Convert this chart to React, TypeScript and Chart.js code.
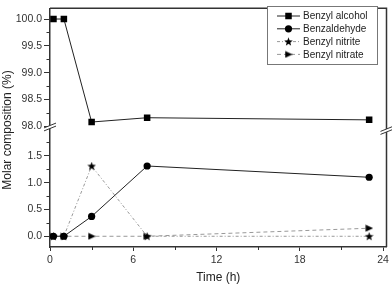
import React, { useEffect, useRef } from 'react';
import { Chart, registerables } from 'chart.js';

Chart.register(...registerables);

// ---- data ----
const times = [0.25, 1, 3, 7, 23];
const benzylAlcohol = [100.0, 100.0, 98.08, 98.16, 98.12];
const benzaldehyde = [0, 0, 0.37, 1.31, 1.1];
const benzylNitrite = [0, 0, 1.31, 0, 0];
const benzylNitrate = [0, 0, 0, 0, 0.15];
const seriesNames = ['Benzyl alcohol', 'Benzaldehyde', 'Benzyl nitrite', 'Benzyl nitrate'];
const xTicks = [0, 6, 12, 18, 24];
const xMinorTicks = [3, 9, 15, 21];
const yTopTicks = [98.0, 98.5, 99.0, 99.5, 100.0];
const yBottomTicks = [0.0, 0.5, 1.0, 1.5];
const xTitle = 'Time (h)';
const yTitle = 'Molar composition (%)';

const FONT = 'Arial, "Liberation Sans", sans-serif';
const AXIS = '#333333';

function makeStar(size: number) {
  const c = document.createElement('canvas');
  c.width = size; c.height = size;
  const ctx = c.getContext('2d')!;
  ctx.fillStyle = '#000';
  ctx.beginPath();
  const cx = size / 2, cy = size / 2 + 0.3, R = size / 2, r = R * 0.42;
  for (let i = 0; i < 10; i++) {
    const a = -Math.PI / 2 + (i * Math.PI) / 5;
    const rad = i % 2 === 0 ? R : r;
    ctx.lineTo(cx + rad * Math.cos(a), cy + rad * Math.sin(a));
  }
  ctx.closePath();
  ctx.fill();
  return c;
}

function makeTriangle(w: number, h: number) {
  const c = document.createElement('canvas');
  c.width = w; c.height = h;
  const ctx = c.getContext('2d')!;
  ctx.fillStyle = '#000';
  ctx.beginPath();
  ctx.moveTo(0.5, 0.5);
  ctx.lineTo(w, h / 2);
  ctx.lineTo(0.5, h - 0.5);
  ctx.closePath();
  ctx.fill();
  return c;
}

function drawMarker(ctx: CanvasRenderingContext2D, style: any, x: number, y: number, r: number) {
  ctx.save();
  ctx.fillStyle = '#000';
  if (typeof style !== 'string') {
    ctx.drawImage(style, x - style.width / 2, y - style.height / 2);
  } else if (style === 'rect') {
    const s = Math.SQRT1_2 * r;
    ctx.fillRect(x - s, y - s, 2 * s, 2 * s);
  } else {
    ctx.beginPath();
    ctx.arc(x, y, r, 0, Math.PI * 2);
    ctx.fill();
  }
  ctx.restore();
}

const decorPlugin = {
  id: 'decor',
  afterDraw(chart: any) {
    const { ctx, chartArea } = chart;
    const { left, right, top, bottom } = chartArea;
    const x = chart.scales.x;
    const yTop = chart.scales.yTop;
    const yBot = chart.scales.yBot;
    ctx.save();
    // frame top and right
    ctx.strokeStyle = AXIS;
    ctx.lineWidth = 1.5;
    ctx.beginPath();
    ctx.moveTo(left, top);
    ctx.lineTo(right, top);
    ctx.lineTo(right, bottom);
    ctx.stroke();

    // minor ticks
    ctx.lineWidth = 1;
    ctx.beginPath();
    for (const v of xMinorTicks) {
      const px = Math.round(x.getPixelForValue(v)) + 0.5;
      ctx.moveTo(px, bottom);
      ctx.lineTo(px, bottom + 3);
    }
    for (const sc of [yTop, yBot]) {
      const ticks = sc === yTop ? yTopTicks : yBottomTicks;
      for (let i = 0; i < ticks.length; i++) {
        const mids = [ticks[i] - 0.25, ticks[i] + 0.25];
        for (const m of mids) {
          if (m < sc.min || m > sc.max) continue;
          if (i > 0 && m === ticks[i] - 0.25) continue;
          const py = Math.round(sc.getPixelForValue(m)) + 0.5;
          ctx.moveTo(left, py);
          ctx.lineTo(left - 3.5, py);
        }
      }
    }
    ctx.stroke();

    // axis breaks
    const breaks = [
      { bx: left, yj: yTop.bottom - 2 },
      { bx: right, yj: yTop.bottom + 1.5 },
    ];
    for (const { bx, yj } of breaks) {
      ctx.fillStyle = '#fff';
      ctx.beginPath();
      ctx.moveTo(bx - 5, yj + 2 + 1.5);
      ctx.lineTo(bx + 5, yj - 2 + 1.5);
      ctx.lineTo(bx + 5, yj - 2 - 1.5);
      ctx.lineTo(bx - 5, yj + 2 - 1.5);
      ctx.closePath();
      ctx.fill();
      ctx.strokeStyle = AXIS;
      ctx.lineWidth = 1;
      ctx.beginPath();
      ctx.moveTo(bx - 6, yj + 2.4 + 1.5);
      ctx.lineTo(bx + 6, yj - 2.4 + 1.5);
      ctx.moveTo(bx - 6, yj + 2.4 - 1.5);
      ctx.lineTo(bx + 6, yj - 2.4 - 1.5);
      ctx.stroke();
    }

    // titles
    ctx.fillStyle = '#222';
    ctx.font = `12px ${FONT}`;
    ctx.textAlign = 'center';
    ctx.textBaseline = 'middle';
    ctx.fillText(xTitle, (left + right) / 2, 278);
    ctx.save();
    ctx.translate(8, 130);
    ctx.rotate(-Math.PI / 2);
    ctx.fillText(yTitle, 0, 0);
    ctx.restore();

    // legend
    const bx0 = 267.5, by0 = 6.5, bw = 110, bh = 58;
    ctx.fillStyle = '#fff';
    ctx.fillRect(bx0, by0, bw, bh);
    ctx.strokeStyle = '#777';
    ctx.lineWidth = 1;
    ctx.strokeRect(bx0, by0, bw, bh);
    ctx.font = `10px ${FONT}`;
    ctx.textAlign = 'left';
    chart.data.datasets.forEach((ds: any, i: number) => {
      const ry = 16 + i * 12.8;
      ctx.save();
      ctx.strokeStyle = ds.borderColor;
      ctx.lineWidth = ds.borderWidth;
      ctx.setLineDash(ds.borderDash || []);
      ctx.beginPath();
      ctx.moveTo(277, ry);
      ctx.lineTo(300, ry);
      ctx.stroke();
      ctx.restore();
      drawMarker(ctx, ds.pointStyle, 288.5, ry, ds.pointRadius);
      ctx.fillStyle = '#222';
      ctx.fillText(ds.label, 303, ry + 0.5);
    });
    ctx.restore();
  },
};

export default function App() {
  const ref = useRef<HTMLCanvasElement>(null);
  useEffect(() => {
    const star = makeStar(9);
    const tri = makeTriangle(8, 8);
    const pts = (vals: number[]) => times.map((t, i) => ({ x: t, y: vals[i] }));
    const chart = new Chart(ref.current!, {
      type: 'line',
      data: {
        datasets: [
          {
            label: seriesNames[0], data: pts(benzylAlcohol), yAxisID: 'yTop',
            borderColor: '#222', borderWidth: 1, pointStyle: 'rect', pointRadius: 4.6,
            pointBackgroundColor: '#000', pointBorderWidth: 0, order: 1,
          },
          {
            label: seriesNames[1], data: pts(benzaldehyde), yAxisID: 'yBot',
            borderColor: '#222', borderWidth: 1, pointStyle: 'circle', pointRadius: 3.6,
            pointBackgroundColor: '#000', pointBorderWidth: 0, order: 2,
          },
          {
            label: seriesNames[2], data: pts(benzylNitrite), yAxisID: 'yBot',
            borderColor: '#999', borderWidth: 1, borderDash: [3, 2, 1, 2], pointStyle: star as any,
            pointRadius: 4.5, order: 3,
          },
          {
            label: seriesNames[3], data: pts(benzylNitrate), yAxisID: 'yBot',
            borderColor: '#999', borderWidth: 1, borderDash: [4, 3], pointStyle: tri as any,
            pointRadius: 4, order: 4,
          },
        ] as any,
      },
      options: {
        responsive: false,
        animation: false,
        layout: { padding: { top: 1, right: 5, left: 0, bottom: 0 } },
        plugins: { legend: { display: false }, tooltip: { enabled: false } },
        scales: {
          x: {
            type: 'linear', min: 0, max: 24.25,
            afterBuildTicks: (s: any) => { s.ticks = xTicks.map((v) => ({ value: v })); },
            afterFit: (s: any) => { s.height = 38; },
            ticks: { color: AXIS, font: { family: FONT, size: 10.5 }, padding: 3, maxRotation: 0 },
            grid: { display: true, drawOnChartArea: false, drawTicks: true, tickLength: 4, color: AXIS },
            border: { display: true, color: AXIS, width: 1.5 },
          },
          yBot: {
            type: 'linear', position: 'left', stack: 'y', stackWeight: 2.2, min: -0.2, max: 2.0,
            afterBuildTicks: (s: any) => { s.ticks = yBottomTicks.map((v) => ({ value: v })); },
            afterFit: (s: any) => { s.width = 50; },
            ticks: { color: AXIS, font: { family: FONT, size: 10.5 }, padding: 2, callback: (v: any) => Number(v).toFixed(1) },
            grid: { display: true, drawOnChartArea: false, drawTicks: true, tickLength: 6, color: AXIS },
            border: { display: true, color: AXIS, width: 1.5 },
          },
          yTop: {
            type: 'linear', position: 'left', stack: 'y', stackWeight: 2.25, min: 97.95, max: 100.2,
            afterBuildTicks: (s: any) => { s.ticks = yTopTicks.map((v) => ({ value: v })); },
            afterFit: (s: any) => { s.width = 50; },
            ticks: { color: AXIS, font: { family: FONT, size: 10.5 }, padding: 2, callback: (v: any) => Number(v).toFixed(1) },
            grid: { display: true, drawOnChartArea: false, drawTicks: true, tickLength: 6, color: AXIS },
            border: { display: true, color: AXIS, width: 1.5 },
          },
        },
      } as any,
      plugins: [decorPlugin],
    });
    return () => chart.destroy();
  }, []);
  return (
    <div style={{ position: 'absolute', left: 0, top: 0, width: 392, height: 285, background: '#fff' }}>
      <canvas ref={ref} width={392} height={285} style={{ display: 'block' }} />
    </div>
  );
}
